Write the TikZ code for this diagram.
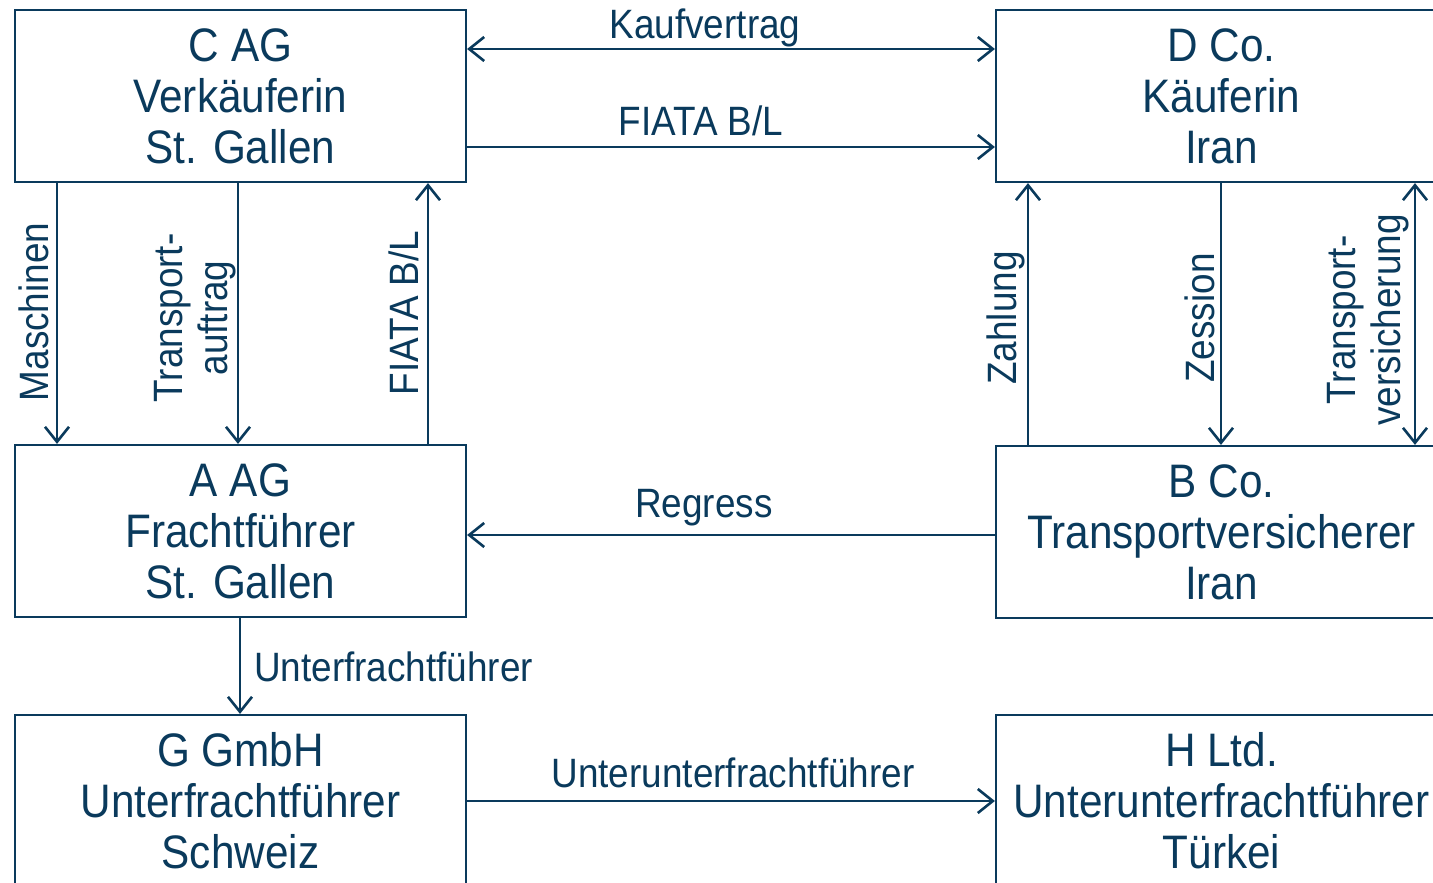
\documentclass[tikz,border=0pt]{standalone}
\usepackage{fontspec}
\setmainfont[FakeStretch=0.9]{Liberation Sans}
\usetikzlibrary{arrows.meta}
\definecolor{dblue}{HTML}{0A3A5C}
\begin{document}
\begin{tikzpicture}[x=1pt,y=-1pt,
  box/.style={draw=dblue, line width=2.2pt, minimum width=451pt, minimum height=172pt,
    inner sep=0pt, align=center, text=dblue, font=\fontsize{47}{51}\selectfont},
  lbl/.style={text=dblue, inner sep=0pt, align=center, font=\fontsize{41}{45}\selectfont},
  arr/.style={draw=dblue, line width=2.6pt, -{Straight Barb[length=15pt,width=24pt]}},
  darr/.style={draw=dblue, line width=2.6pt, {Straight Barb[length=15pt,width=24pt]}-{Straight Barb[length=15pt,width=24pt]}}]
\useasboundingbox (0,0) rectangle (1433,883);
% boxes
\node[box] (C) at (240.5,96) {C AG\\Verkäuferin\\St. Gallen};
\node[box] (D) at (1221.5,96) {D Co.\\Käuferin\\Iran};
\node[box] (A) at (240.5,531) {A AG\\Frachtführer\\St. Gallen};
\node[box] (B) at (1221.5,532) {B Co.\\Transportversicherer\\Iran};
\node[box] (G) at (240.5,801) {G GmbH\\Unterfrachtführer\\Schweiz};
\node[box] (H) at (1221.5,801) {H Ltd.\\Unterunterfrachtführer\\Türkei};
% helper coordinates
\coordinate (yK) at (0,49);
\coordinate (yF) at (0,147);
\coordinate (yR) at (0,535);
\coordinate (yU) at (0,801);
\coordinate (xM) at (57,0);
\coordinate (xT) at (238,0);
\coordinate (xFB) at (428,0);
\coordinate (xZ) at (1028,0);
\coordinate (xZe) at (1221,0);
\coordinate (xV) at (1415,0);
\coordinate (xUF) at (240,0);
% horizontal connectors
\draw[darr] (C.east |- yK) -- (D.west |- yK);
\draw[arr] (C.east |- yF) -- (D.west |- yF);
\draw[arr] (B.west |- yR) -- (A.east |- yR);
\draw[arr] (G.east |- yU) -- (H.west |- yU);
% vertical connectors
\draw[arr] (C.south -| xM) -- (A.north -| xM);
\draw[arr] (C.south -| xT) -- (A.north -| xT);
\draw[arr] (A.north -| xFB) -- (C.south -| xFB);
\draw[arr] (B.north -| xZ) -- (D.south -| xZ);
\draw[arr] (D.south -| xZe) -- (B.north -| xZe);
\draw[darr] (D.south -| xV) -- (B.north -| xV);
\draw[arr] (A.south -| xUF) -- (G.north -| xUF);
% labels
\node[lbl] (lK) at (705,28) {Kaufvertrag};
\node[lbl] (lF) at (701,121) {FIATA B/L};
\node[lbl] (lR) at (704,508) {Regress};
\node[lbl] (lUU) at (733,773) {Unterunterfrachtführer};
\node[lbl, anchor=west] (lUF) at (254,667) {Unterfrachtführer};
\node[lbl, rotate=90] (lM) at (34,312) {Maschinen};
\node[lbl, rotate=90] (lT) at (195,318) {Transport-\\auftrag};
\node[lbl, rotate=90] (lFB) at (404,313) {FIATA B/L};
\node[lbl, rotate=90] (lZ) at (1006,318) {Zahlung};
\node[lbl, rotate=90] (lZe) at (1200,318) {Zession};
\node[lbl, rotate=90] (lV) at (1368,320) {Transport-\\versicherung};
\end{tikzpicture}
\end{document}
